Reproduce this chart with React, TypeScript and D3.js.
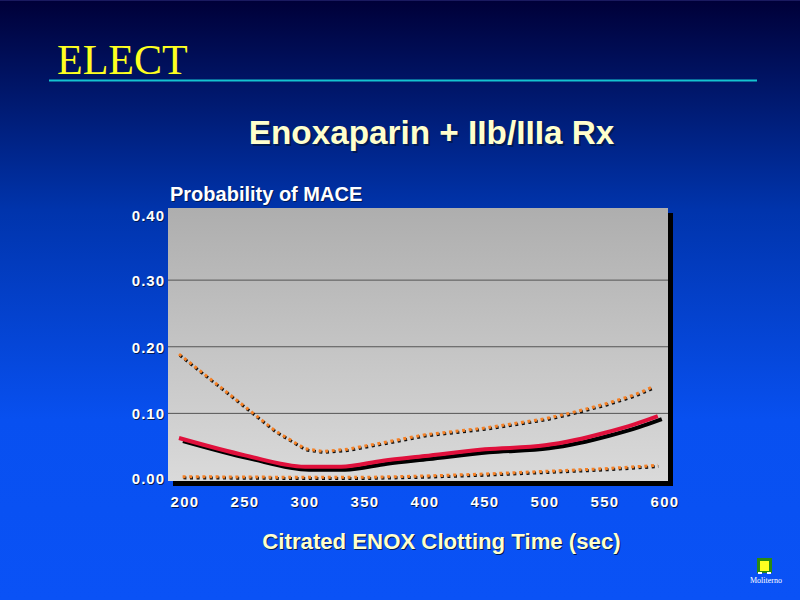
import { useEffect, useRef } from 'react';
import * as d3 from 'd3';

// values
const xTicks = [200, 250, 300, 350, 400, 450, 500, 550, 600];
const yTicks = [0, 0.1, 0.2, 0.3, 0.4];
const gridValues = [0.1, 0.2, 0.3];

const upperTimes = [195, 225, 250, 275, 300, 315, 335, 365, 400, 450, 500, 520, 550, 575, 590];
const upperValues = [0.189, 0.146, 0.11, 0.074, 0.047, 0.043, 0.046, 0.056, 0.068, 0.078, 0.092, 0.1, 0.114, 0.128, 0.14];

const meanTimes = [195, 250, 300, 330, 365, 400, 450, 500, 525, 550, 575, 594];
const meanValues = [0.063, 0.037, 0.02, 0.02, 0.029, 0.036, 0.046, 0.052, 0.06, 0.071, 0.084, 0.096];

const lowerTimes = [198, 300, 350, 400, 450, 500, 550, 594];
const lowerValues = [0.005, 0.004, 0.004, 0.006, 0.009, 0.013, 0.017, 0.022];

type Pt = [number, number];
const zip = (a: number[], b: number[]): Pt[] => a.map((t, i) => [t, b[i]]);

const sans = '"Liberation Sans", Arial, sans-serif';
const serif = '"Liberation Serif", "Times New Roman", serif';

export default function App() {
  const svgRef = useRef<SVGSVGElement>(null);

  useEffect(() => {
    if (!svgRef.current) return;
    const svg = d3.select(svgRef.current);
    svg.selectAll('*').remove();

    const panel = { left: 168, right: 668, top: 208, bottom: 481 };
    const x = d3.scaleLinear().domain([200, 600]).range([185, 665]);
    const y = d3.scaleLinear().domain([0, 0.4]).range([480, 213.5]);

    // Gradients
    const defs = svg.append('defs');
    const bg = defs.append('linearGradient').attr('id', 'bg').attr('x1', 0).attr('x2', 0).attr('y1', 0).attr('y2', 1);
    bg.append('stop').attr('offset', '0%').attr('stop-color', '#000038');
    bg.append('stop').attr('offset', '35%').attr('stop-color', '#0034ac');
    bg.append('stop').attr('offset', '70%').attr('stop-color', '#0850f0');
    bg.append('stop').attr('offset', '100%').attr('stop-color', '#0a52f6');
    const pg = defs.append('linearGradient').attr('id', 'pg').attr('x1', 0).attr('x2', 0).attr('y1', 0).attr('y2', 1);
    pg.append('stop').attr('offset', '0%').attr('stop-color', '#aeaeae');
    pg.append('stop').attr('offset', '100%').attr('stop-color', '#dadada');

    svg.append('rect').attr('width', 800).attr('height', 600).attr('fill', 'url(#bg)');
    svg.append('rect').attr('width', 800).attr('height', 1).attr('fill', '#1a1a60');

    // Text with its offset drop shadow
    const label = (
      text: string, px: number, py: number, size: number, fill: string,
      opts: { anchor?: string; family?: string; weight?: string; spacing?: number; shadow?: number } = {},
    ) => {
      const { anchor = 'middle', family = sans, weight = 'bold', spacing = 0, shadow = 1 } = opts;
      return svg.append('text')
        .attr('x', px)
        .attr('y', py)
        .attr('text-anchor', anchor)
        .attr('font-family', family)
        .attr('font-weight', weight)
        .attr('font-size', size)
        .attr('letter-spacing', spacing)
        .attr('fill', fill)
        .style('text-shadow', `${shadow}px ${shadow}px 0 #001a55`)
        .text(text);
    };

    label('ELECT', 57, 74, 42, '#ffff20', { anchor: 'start', family: serif, weight: 'normal' });
    svg.append('line').attr('x1', 49).attr('x2', 757).attr('y1', 80.5).attr('y2', 80.5)
      .attr('stroke', '#14c4d0').attr('stroke-width', 2);
    label('Enoxaparin + IIb/IIIa Rx', 431.5, 144, 33.3, '#ffffcc', { shadow: 2 });
    label('Probability of MACE', 170, 201, 20, '#ffffff', { anchor: 'start' });
    label('Citrated ENOX Clotting Time (sec)', 441.5, 549, 22.2, '#ffffcc');

    // Panel and its shadow
    svg.append('rect').attr('x', panel.left + 5).attr('y', panel.top + 5)
      .attr('width', panel.right - panel.left).attr('height', panel.bottom - panel.top).attr('fill', '#000');
    svg.append('rect').attr('x', panel.left).attr('y', panel.top)
      .attr('width', panel.right - panel.left).attr('height', panel.bottom - panel.top).attr('fill', 'url(#pg)');

    svg.selectAll('.grid').data(gridValues).enter().append('line')
      .attr('class', 'grid')
      .attr('x1', panel.left).attr('x2', panel.right)
      .attr('y1', d => y(d)).attr('y2', d => y(d))
      .attr('stroke', '#555').attr('stroke-width', 1);

    const fmtY = d3.format('.2f');
    yTicks.forEach(t => label(fmtY(t), 165, y(t) + 6 - (t === 0 ? 2 : 0) + (t === 0.4 ? 1 : 0), 15, '#fff', { anchor: 'end', spacing: 1 }));
    xTicks.forEach(t => label(String(t), x(t), 507, 15, '#fff', { spacing: 1.3 }));

    // Curves
    const dottedLine = d3.line<Pt>().x(d => x(d[0])).y(d => y(d[1]));
    const smoothLine = d3.line<Pt>().x(d => x(d[0])).y(d => y(d[1])).curve(d3.curveMonotoneX);

    const dotted = (pts: Pt[]) => {
      svg.append('path').attr('d', dottedLine(pts)).attr('fill', 'none')
        .attr('transform', 'translate(0.8,1.2)')
        .attr('stroke', '#111').attr('stroke-width', 3).attr('stroke-dasharray', '3 3.6');
      svg.append('path').attr('d', dottedLine(pts)).attr('fill', 'none')
        .attr('stroke', '#f58025').attr('stroke-width', 3).attr('stroke-dasharray', '3 3.6');
    };
    dotted(zip(upperTimes, upperValues));
    dotted(zip(lowerTimes, lowerValues));

    const mean = zip(meanTimes, meanValues);
    svg.append('path').attr('d', smoothLine(mean)).attr('fill', 'none')
      .attr('transform', 'translate(4,3)')
      .attr('stroke', '#000').attr('stroke-width', 4);
    svg.append('path').attr('d', smoothLine(mean)).attr('fill', 'none')
      .attr('stroke', '#e0103c').attr('stroke-width', 4);

    // Presenter badge, bottom right
    const badge = svg.append('g');
    badge.append('rect').attr('x', 757).attr('y', 558).attr('width', 15).attr('height', 15).attr('fill', '#2a8a10');
    badge.append('rect').attr('x', 760).attr('y', 561).attr('width', 9).attr('height', 10).attr('fill', '#ffff20');
    badge.append('rect').attr('x', 758).attr('y', 572).attr('width', 4).attr('height', 2).attr('fill', '#fff');
    badge.append('rect').attr('x', 767).attr('y', 572).attr('width', 4).attr('height', 2).attr('fill', '#fff');
    badge.append('text').attr('x', 766).attr('y', 583).attr('text-anchor', 'middle')
      .attr('font-family', serif).attr('font-size', 8).attr('fill', '#fff').text('Moliterno');
  }, []);

  return (
    <svg
      ref={svgRef}
      width={800}
      height={600}
      viewBox="0 0 800 600"
      style={{ position: 'absolute', left: 0, top: 0, display: 'block' }}
    />
  );
}
